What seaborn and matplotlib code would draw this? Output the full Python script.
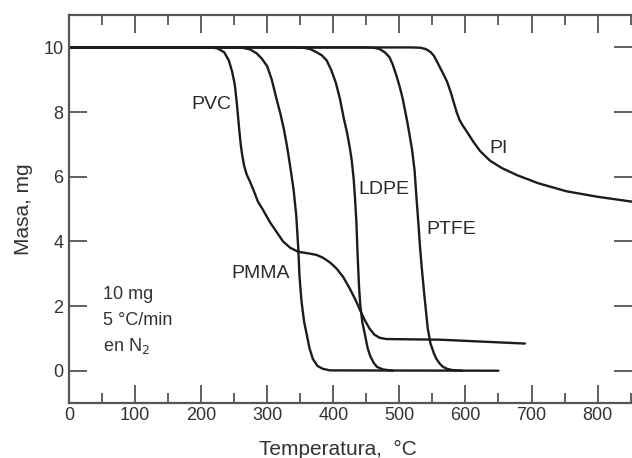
import matplotlib
matplotlib.use("Agg")
import matplotlib.pyplot as plt
import seaborn as sns
import pandas as pd
from matplotlib.ticker import MultipleLocator

sns.set_theme(style="white")
plt.rcParams['font.family'] = ['Liberation Sans', 'DejaVu Sans']

# --- data (temperature in °C, mass in mg) ---
pvc_t = [0, 215, 225, 235, 242, 247, 251, 254, 256, 258, 260, 262, 265, 269, 274, 280, 286, 293, 304,
         314, 324, 335, 347, 365, 375, 384, 395, 405, 415, 425, 433, 440, 448, 455, 462, 470, 480, 561, 690]
pvc_m = [10, 10, 9.97, 9.85, 9.6, 9.25, 8.85, 8.3, 7.85, 7.4, 7.0, 6.7, 6.35, 6.07, 5.85, 5.55, 5.23, 5.0, 4.6,
         4.3, 4.0, 3.8, 3.68, 3.62, 3.58, 3.5, 3.35, 3.16, 2.9, 2.54, 2.22, 1.9, 1.55, 1.3, 1.12, 1.02, 0.98, 0.96, 0.84]

pmma_t = [0, 250, 262, 274, 284, 292, 300, 307, 314, 320, 325, 330, 335, 340, 344, 347, 349, 352,
          356, 360, 364, 369, 376, 384, 395, 650]
pmma_m = [10, 10, 9.99, 9.94, 9.82, 9.65, 9.42, 9.0, 8.42, 7.95, 7.5, 6.95, 6.3, 5.6, 4.8, 3.8, 2.9, 2.14,
          1.5, 1.11, 0.7, 0.37, 0.15, 0.06, 0.01, 0.0]

ldpe_t = [0, 340, 355, 365, 375, 383, 390, 397, 404, 410, 416, 421, 425, 428, 431, 433, 435, 437, 439,
          441, 444, 448, 452, 456, 461, 466, 475, 490]
ldpe_m = [10, 10, 9.99, 9.95, 9.85, 9.75, 9.6, 9.3, 8.9, 8.42, 7.8, 7.35, 6.9, 6.5, 5.9, 5.3, 4.6, 3.5, 2.6,
          2.0, 1.5, 1.11, 0.7, 0.45, 0.25, 0.12, 0.04, 0.0]

ptfe_t = [0, 450, 462, 470, 478, 485, 490, 496, 501, 505, 512, 519, 523, 526, 529, 531, 534, 538,
          543, 547, 552, 556, 561, 566, 572, 580, 595]
ptfe_m = [10, 10, 9.99, 9.95, 9.85, 9.7, 9.47, 9.1, 8.75, 8.42, 7.7, 6.87, 6.2, 5.33, 4.5, 3.9, 3.16, 2.3,
          1.3, 0.85, 0.55, 0.37, 0.22, 0.12, 0.06, 0.02, 0.0]

pi_t = [0, 520, 532, 540, 547, 552, 556, 561, 566, 572, 578, 583, 587, 591, 596, 602, 612, 622, 637,
        655, 678, 710, 753, 800, 852]
pi_m = [10, 10, 9.99, 9.95, 9.86, 9.75, 9.6, 9.4, 9.2, 8.95, 8.6, 8.25, 7.98, 7.76, 7.58, 7.4, 7.08, 6.8, 6.5,
        6.27, 6.05, 5.8, 5.55, 5.38, 5.23]

series = {"PVC": (pvc_t, pvc_m), "PMMA": (pmma_t, pmma_m), "LDPE": (ldpe_t, ldpe_m),
          "PTFE": (ptfe_t, ptfe_m), "PI": (pi_t, pi_m)}

x_ticks = [0, 100, 200, 300, 400, 500, 600, 700, 800]
y_ticks = [0, 2, 4, 6, 8, 10]

rows = []
for name, (ts, ms) in series.items():
    for i, (t, m) in enumerate(zip(ts, ms)):
        rows.append({"polymer": name, "order": i, "T": t, "m": m})
df = pd.DataFrame(rows)

fig = plt.figure(figsize=(6.32, 4.58), dpi=100)
ax = fig.add_axes([0.109, 0.120, 0.891, 0.847])

ink = "#1c1c1c"
sns.lineplot(data=df, x="T", y="m", hue="polymer", units="polymer", estimator=None,
             sort=False, palette={k: ink for k in series}, linewidth=1.7, legend=False, ax=ax)
for ln in ax.lines:
    ln.set_solid_joinstyle("round")

ax.set_xlim(0, 852)
ax.set_ylim(-1, 11)
ax.set_xticks(x_ticks)
ax.set_yticks(y_ticks)
ax.xaxis.set_minor_locator(MultipleLocator(50))

spine_c = "#555555"
for s in ["left", "bottom", "top"]:
    ax.spines[s].set_color(spine_c)
    ax.spines[s].set_linewidth(1.6)
ax.spines["right"].set_visible(False)

ax.tick_params(axis="x", which="major", direction="in", length=13, width=1.3, color=spine_c,
               top=True, bottom=True, labelsize=13, pad=3, labelcolor="#333333")
ax.tick_params(axis="x", which="minor", direction="in", length=7, width=1.3, color=spine_c,
               top=True, bottom=True)
ax.tick_params(axis="y", which="major", direction="in", length=13, width=1.3, color=spine_c,
               left=True, right=True, labelsize=13, pad=4, labelcolor="#333333")

ax.set_xlabel("Temperatura,  °C", fontsize=15, color="#333333", labelpad=5)
ax.set_ylabel("Masa, mg", fontsize=15, color="#333333", labelpad=7)
ax.xaxis.set_label_coords(0.478, -0.095)

lab_kw = dict(fontsize=14, color="#2a2a2a", ha="center", va="center")
ax.text(215, 8.24, "PVC", **lab_kw)
ax.text(290, 3.0, "PMMA", **lab_kw)
ax.text(476, 5.6, "LDPE", **lab_kw)
ax.text(578, 4.37, "PTFE", **lab_kw)
ax.text(650, 6.87, "PI", **lab_kw)

note_kw = dict(fontsize=13, color="#333333", ha="left", va="center")
ax.text(51, 2.35, "10 mg", **note_kw)
ax.text(51, 1.55, "5 °C/min", **note_kw)
ax.text(51, 0.75, "en N$_2$", **note_kw)

fig.savefig("out.png", dpi=100)
